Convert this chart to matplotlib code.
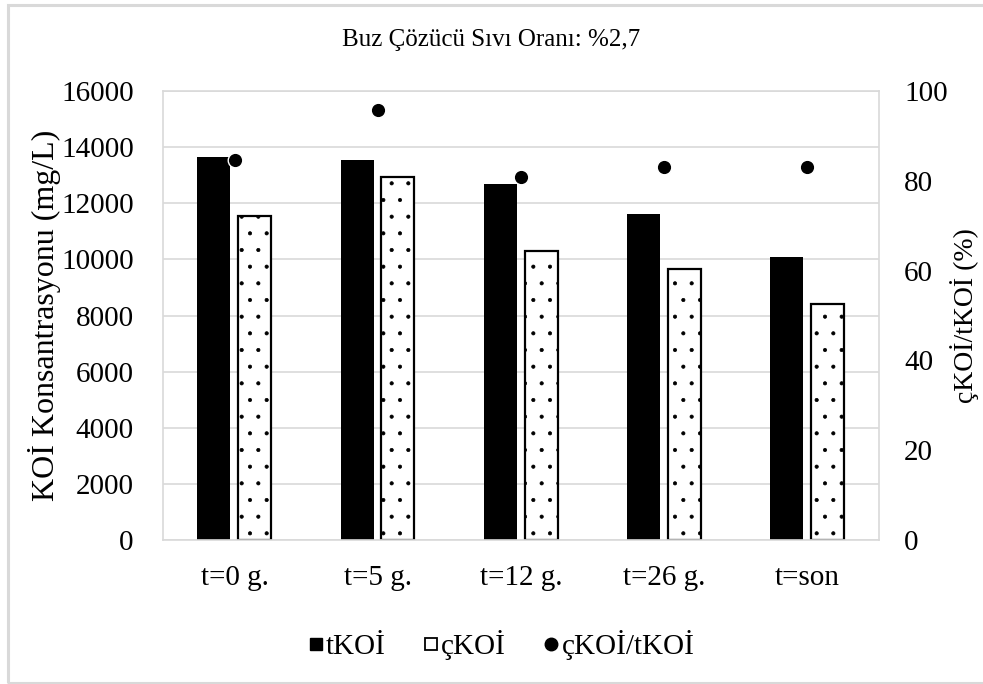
import numpy as np
import matplotlib
matplotlib.use("Agg")
import matplotlib.pyplot as plt
from matplotlib.patches import Rectangle
from matplotlib.lines import Line2D

plt.rcParams['font.family'] = ['Liberation Serif', 'DejaVu Serif']
plt.rcParams['hatch.linewidth'] = 0.5

# data
gunler = ["t=0 g.", "t=5 g.", "t=12 g.", "t=26 g.", "t=son"]
tkoi = [13650, 13550, 12700, 11600, 10100]
ckoi = [11550, 12950, 10300, 9650, 8400]
oran = [84.6, 95.8, 80.9, 83.0, 83.0]

W, H = 983, 684
fig = plt.figure(figsize=(W / 100, H / 100), dpi=100)

# outer frame
fig.patches.append(Rectangle((8 / W, 1 - 683 / H), 1.0, (683 - 4.5) / H,
                             transform=fig.transFigure, fill=False,
                             edgecolor="#d9d9d9", lw=2.2))

ax = fig.add_axes([163 / W, 1 - 540 / H, (879 - 163) / W, (540 - 91) / H])
x = np.arange(len(gunler))
bw = 0.23
ax.bar(x - 0.145, tkoi, bw, color="black", zorder=2)
ax.bar(x + 0.14, ckoi, bw, color="white", edgecolor="black", hatch=".",
       lw=1.6, zorder=2)

ax.set_xlim(-0.5, 4.5)
ax.set_ylim(0, 16000)
ax.set_yticks(np.arange(0, 16001, 2000))
ax.set_xticks(x)
ax.set_xticklabels(gunler)
ax.grid(axis="y", color="#d9d9d9", lw=1.2, zorder=0)
for s in ax.spines.values():
    s.set_color("#d9d9d9")
    s.set_linewidth(1.2)
ax.tick_params(axis="both", length=0, labelsize=21)
ax.tick_params(axis="y", pad=21)
ax.tick_params(axis="x", pad=18)
ax.set_ylabel("KOİ Konsantrasyonu (mg/L)", fontsize=23, labelpad=0)

ax2 = ax.twinx()
ax2.plot(x, oran, "o", color="black", ms=10.5, mec="white", mew=1, zorder=3)
ax2.set_ylim(0, 100)
ax2.set_yticks(np.arange(0, 101, 20))
ax2.tick_params(axis="y", length=0, labelsize=21, pad=18)
for s in ax2.spines.values():
    s.set_visible(False)
ax2.set_ylabel("çKOİ/tKOİ (%)", fontsize=20, labelpad=2)

fig.text(0.5, 1 - 40 / H, "Buz Çözücü Sıvı Oranı: %2,7", ha="center",
         va="center", fontsize=18)

handles = [
    Line2D([], [], marker="s", ls="", color="black", ms=9),
    Line2D([], [], marker="s", ls="", mfc="white", mec="black", mew=1.3, ms=9),
    Line2D([], [], marker="o", ls="", color="black", ms=9),
]
fig.legend(handles, ["tKOİ", "çKOİ", "çKOİ/tKOİ"], loc="center",
           bbox_to_anchor=(0.51, 1 - 645 / H), ncol=3, frameon=False,
           fontsize=21, handlelength=0.5, handletextpad=0.1, columnspacing=1.3)

fig.savefig("out.png", dpi=100)
